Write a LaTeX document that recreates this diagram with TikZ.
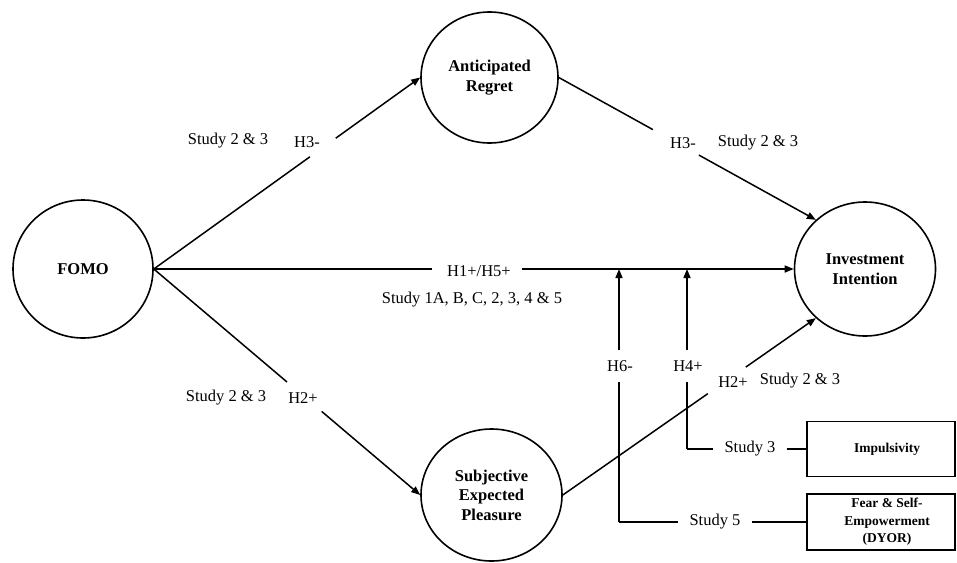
\documentclass[tikz,border=0pt]{standalone}
\usepackage{fontspec}
\setmainfont{Liberation Serif}
\usetikzlibrary{arrows.meta,shapes.geometric,calc}
\tikzset{
  construct/.style={draw, ellipse, line width=1.6pt, font=\fontsize{16.5}{19.5}\selectfont\bfseries, align=center, inner sep=0pt},
  modbox/.style={draw, rectangle, line width=1.1pt, font=\fontsize{13.5}{17.5}\selectfont\bfseries, align=center, minimum width=148pt, inner sep=0pt},
  lbl/.style={font=\fontsize{16.5}{19.5}\selectfont, inner sep=0pt},
  gaplbl/.style={font=\fontsize{16.5}{19.5}\selectfont, inner ysep=0pt, inner xsep=11pt},
  conn/.style={line width=1.5pt},
  arr/.style={line width=1.5pt, -{Triangle[length=9pt,width=7pt]}}
}
\begin{document}
\begin{tikzpicture}[x=1pt,y=-1pt]
\useasboundingbox (0,0) rectangle (957,562);
% constructs
\node[construct, minimum width=140pt, minimum height=138pt] (fomo) at (83,269) {FOMO};
\node[construct, minimum width=137pt, minimum height=131pt] (ar) at (489.5,77.5) {Anticipated\\Regret};
\node[construct, minimum width=141pt, minimum height=134pt] (ii) at (865,269) {Investment\\Intention};
\node[construct, minimum width=141pt, minimum height=132pt] (sep) at (491.5,495) {Subjective\\Expected\\Pleasure};
% moderator boxes
\node[modbox, minimum height=55pt] (imp) at (881,449) {\hspace*{12pt}Impulsivity};
\node[modbox, minimum height=56pt] (fear) at (881,522) {\hspace*{12pt}Fear \& Self-\\\hspace*{12pt}Empowerment\\\hspace*{12pt}(DYOR)};
% FOMO -> AR
\draw[conn] (fomo.east) -- ($(fomo.east)!0.586!(ar.west)$);
\draw[arr] ($(fomo.east)!0.683!(ar.west)$) -- (ar.west);
% AR -> II
\coordinate (iiA) at (ii.135);
\draw[conn] (ar.east) -- ($(ar.east)!0.366!(iiA)$);
\draw[arr] ($(ar.east)!0.545!(iiA)$) -- (iiA);
% FOMO -> SEP
\draw[conn] (fomo.east) -- ($(fomo.east)!0.5!(sep.west)$);
\draw[arr] ($(fomo.east)!0.63!(sep.west)$) -- (sep.west);
% SEP -> II
\coordinate (iiB) at (ii.225);
\draw[conn] (sep.east) -- ($(sep.east)!0.573!(iiB)$);
\draw[arr] ($(sep.east)!0.723!(iiB)$) -- (iiB);
% FOMO -> II
\draw[conn] (fomo.east) -- ($(fomo.east)!0.435!(ii.west)$);
\draw[arr] ($(fomo.east)!0.575!(ii.west)$) -- (ii.west);
% moderators
\coordinate (c6) at (619,522);
\coordinate (m6) at (c6 |- fomo.east);
\coordinate (c4) at (687,449);
\coordinate (m4) at (c4 |- fomo.east);
\draw[conn] (c6) -- ($(c6)!0.553!(m6)$);
\draw[arr] ($(c6)!0.68!(m6)$) -- (m6);
\draw[conn] (c4) -- ($(c4)!0.372!(m4)$);
\draw[arr] ($(c4)!0.55!(m4)$) -- (m4);
\node[gaplbl] (s5) at (715,522) {Study 5};
\node[gaplbl] (s3) at (750,449) {Study 3};
\draw[conn] (c6) -- (s5.west);
\draw[conn] (s5.east) -- (fear.west);
\draw[conn] (c4) -- (s3.west);
\draw[conn] (s3.east) -- (imp.west);
% labels
\node[lbl] (l1) at (228,141) {Study 2 \& 3};
\node[lbl] (l2) at (307,142) {H3-};
\node[lbl] (l3) at (683,143) {H3-};
\node[lbl] (l4) at (758,143) {Study 2 \& 3};
\node[lbl] (l5) at (479,271) {H1+/H5+};
\node[lbl] (l6) at (472,300) {Study 1A, B, C, 2, 3, 4 \& 5};
\node[lbl] (l7) at (226,398) {Study 2 \& 3};
\node[lbl] (l8) at (303,398) {H2+};
\node[lbl] (l9) at (620,366) {H6-};
\node[lbl] (l10) at (688,366) {H4+};
\node[lbl] (l11) at (733,382) {H2+};
\node[lbl] (l12) at (800,381) {Study 2 \& 3};
\end{tikzpicture}
\end{document}
